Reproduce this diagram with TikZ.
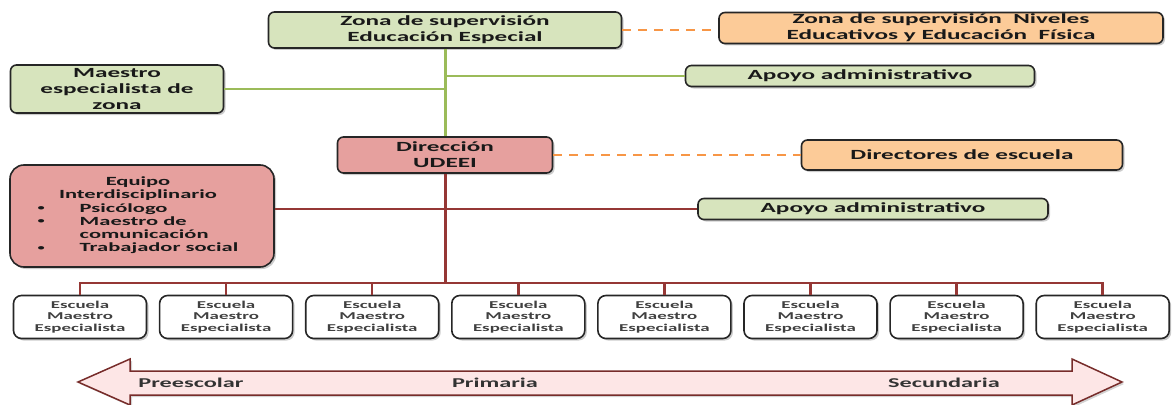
\documentclass[tikz,border=0pt]{standalone}
\usepackage{fontspec}
\newfontfamily\boxfont[FakeStretch=1.8]{Carlito}
\usetikzlibrary{shadows}
\definecolor{verde}{HTML}{D7E4BD}
\definecolor{verdelinea}{HTML}{9BBB59}
\definecolor{naranja}{HTML}{FCCB98}
\definecolor{naranjalinea}{HTML}{F79646}
\definecolor{rosa}{HTML}{E6A09E}
\definecolor{rojolinea}{HTML}{953735}
\definecolor{rosaclaro}{HTML}{FDE6E6}
\newcommand{\punto}{\raisebox{1.5pt}{\fontsize{8}{8}\selectfont\textbullet}}
\begin{document}
\begin{tikzpicture}[x=1pt,y=-1pt,
    caja/.style={draw=black!85,line width=1.6pt,rounded corners=6pt,align=center,
      inner sep=0pt,text=black!90,
      font=\boxfont\bfseries\fontsize{14}{16}\selectfont,
      drop shadow={shadow xshift=2pt,shadow yshift=-2pt,opacity=0.4}},
    greenbox/.style={caja,fill=verde},
    orangebox/.style={caja,fill=naranja},
    pinkbox/.style={caja,fill=rosa},
    schoolbox/.style={caja,fill=white,rounded corners=8pt,minimum width=133,minimum height=43,
      text=black!75,font=\boxfont\bfseries\fontsize{10.5}{11.5}\selectfont},
    greenline/.style={verdelinea,line width=2pt},
    redline/.style={rojolinea,line width=2pt},
    dashline/.style={naranjalinea,line width=1.5pt,dash pattern=on 9pt off 7pt}]
\useasboundingbox (0,0) rectangle (1174,404);

\node[greenbox,minimum width=353,minimum height=36] (zona) at (445,30) {Zona de supervisión\\Educación Especial};
\node[orangebox,minimum width=444,minimum height=31] (niveles) at (941,28) {Zona de supervisión~ Niveles\\Educativos y Educación~ Física};
\node[greenbox,minimum width=213,minimum height=48] (maestro) at (117,89) {Maestro\\especialista de\\zona};
\node[greenbox,minimum width=349,minimum height=21] (apoyoA) at (860,76) {Apoyo administrativo};
\node[pinkbox,minimum width=215,minimum height=36] (direccion) at (445,155) {Dirección\\UDEEI};
\node[orangebox,minimum width=321,minimum height=30] (directores) at (962,155) {Directores de escuela};
\node[pinkbox,minimum width=264,minimum height=102,rounded corners=14pt,
      font=\boxfont\bfseries\fontsize{12.5}{13.3}\selectfont] (equipo) at (142,216)
  {\begin{tabular}{@{}p{30pt}l@{}}
   \multicolumn{2}{c}{Equipo}\\
   \multicolumn{2}{c}{Interdisciplinario}\\
   \punto & Psicólogo\\
   \punto & Maestro de\\
          & comunicación\\
   \punto & Trabajador social
   \end{tabular}\hspace{8pt}};
\node[greenbox,minimum width=350,minimum height=21] (apoyoB) at (873,209) {Apoyo administrativo};

\foreach \i in {1,...,8}
  \node[schoolbox] (esc\i) at ({80+146.1*(\i-1)},317) {Escuela\\Maestro\\Especialista};

\coordinate (ramaA) at (445,76);
\coordinate (ramaM) at (445,89);
\coordinate (ramaE) at (445,209);
\coordinate (bus) at (445,283);

\draw[greenline,line width=3pt] (zona.south) -- (direccion.north);
\draw[greenline] (ramaA) -- (apoyoA.west);
\draw[greenline] (maestro.east) -- (ramaM);
\draw[dashline] (zona.east) -- (zona.east -| niveles.west);
\draw[dashline] (direccion.east) -- (direccion.east -| directores.west);
\draw[redline,line width=3pt] (direccion.south) -- (bus);
\draw[redline] (equipo.east |- ramaE) -- (apoyoB.west);
\draw[redline,line width=2.5pt] (esc1.north) -- (esc1.north |- bus) -- (esc8.north |- bus) -- (esc8.north);
\foreach \i in {2,...,7}
  \draw[redline,line width=2.5pt] (esc\i.north) -- (esc\i.north |- bus);

\draw[draw=rojolinea!80!black,line width=1.5pt,fill=rosaclaro,
      drop shadow={shadow xshift=2pt,shadow yshift=-2pt,opacity=0.35}]
  (78,382) -- (130,359) -- (130,371) -- (1072,371) -- (1072,359) -- (1122,382)
  -- (1072,405) -- (1072,395) -- (130,395) -- (130,405) -- cycle;
\begin{scope}[every node/.style={text=black!80,font=\boxfont\bfseries\fontsize{13.5}{15}\selectfont}]
\node (pre) at (191,383) {Preescolar};
\node (pri) at (495,383) {Primaria};
\node (sec) at (944,383) {Secundaria};
\end{scope}
\end{tikzpicture}
\end{document}
